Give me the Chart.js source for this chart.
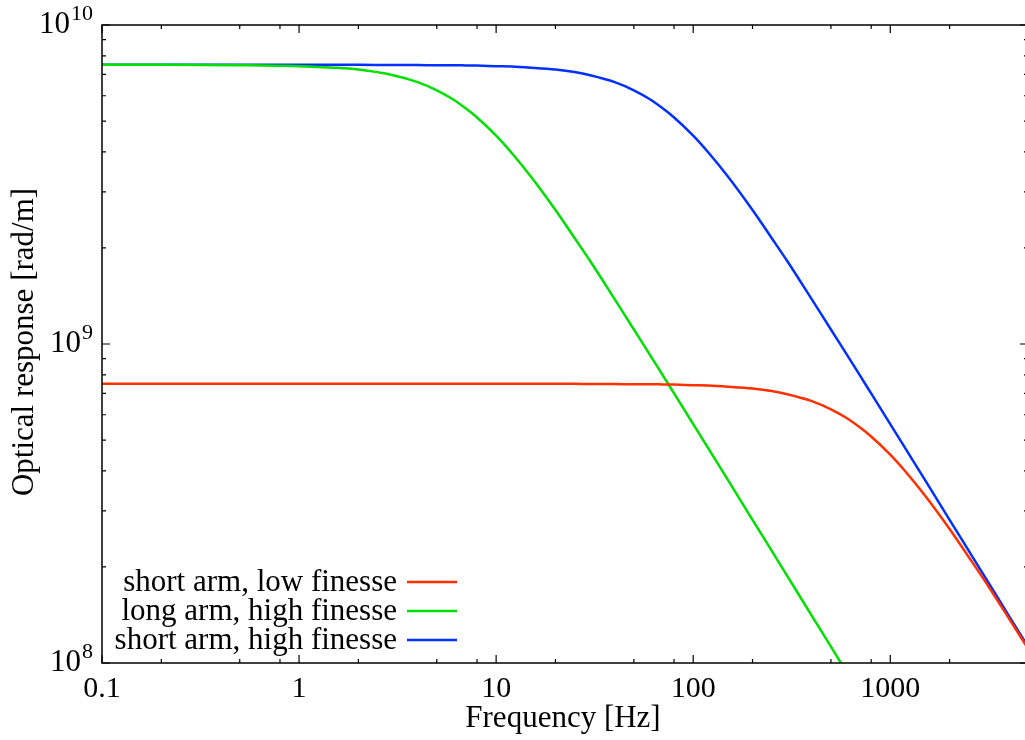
<!DOCTYPE html>
<html>
<head>
<meta charset="utf-8">
<script src="https://cdn.jsdelivr.net/npm/chart.js@4"></script>
<style>
  html, body { margin: 0; padding: 0; background: #fff; overflow: hidden; }
</style>
</head>
<body>
<canvas id="chart" width="1030" height="740"></canvas>
<script>
  // Frequencies [Hz] shared by all three curves
  const freqs = [0.1, 0.2, 0.5, 1, 1.5, 2, 3, 4, 5, 6, 7, 8,
    10, 12, 15, 20, 25, 30, 40, 50, 60, 70, 80,
    100, 120, 150, 200, 250, 300, 400, 500, 600, 700, 800,
    1000, 1200, 1500, 2000, 2500, 3000, 4000, 5000];

  // Optical response [rad/m]
  const shortLowFinesse = [7.5e8, 7.5e8, 7.5e8, 7.5e8, 7.5e8, 7.5e8, 7.5e8, 7.5e8, 7.5e8, 7.5e8, 7.5e8, 7.5e8,
    7.5e8, 7.5e8, 7.5e8, 7.5e8, 7.5e8, 7.49e8, 7.49e8, 7.48e8, 7.48e8, 7.47e8, 7.46e8,
    7.43e8, 7.41e8, 7.35e8, 7.25e8, 7.12e8, 6.96e8, 6.62e8, 6.24e8, 5.86e8, 5.48e8, 5.13e8,
    4.5e8, 3.97e8, 3.35e8, 2.63e8, 2.15e8, 1.82e8, 1.38e8, 1.11e8];
  const longHighFinesse = [7.5e9, 7.5e9, 7.48e9, 7.43e9, 7.35e9, 7.25e9, 6.96e9, 6.62e9, 6.24e9, 5.86e9, 5.48e9, 5.13e9,
    4.5e9, 3.97e9, 3.35e9, 2.63e9, 2.15e9, 1.82e9, 1.38e9, 1.11e9, 9.3e8, 7.99e8, 7.0e8,
    5.61e8, 4.68e8, 3.75e8, 2.81e8, 2.25e8, 1.875e8, 1.406e8, 1.125e8, 9.37e7, null, null,
    null, null, null, null, null, null, null, null];
  const shortHighFinesse = [7.5e9, 7.5e9, 7.5e9, 7.5e9, 7.5e9, 7.5e9, 7.49e9, 7.49e9, 7.48e9, 7.48e9, 7.47e9, 7.46e9,
    7.43e9, 7.41e9, 7.35e9, 7.25e9, 7.12e9, 6.96e9, 6.62e9, 6.24e9, 5.86e9, 5.48e9, 5.13e9,
    4.5e9, 3.97e9, 3.35e9, 2.63e9, 2.15e9, 1.82e9, 1.38e9, 1.11e9, 9.3e8, 7.99e8, 7.0e8,
    5.61e8, 4.68e8, 3.75e8, 2.81e8, 2.25e8, 1.875e8, 1.406e8, 1.125e8];

  const seriesLabels = ["short arm, low finesse", "long arm, high finesse", "short arm, high finesse"];
  const seriesColors = ["#ff3000", "#00e000", "#0030ff"];

  // Axis ticks
  const xMajorTicks = [0.1, 1, 10, 100, 1000];
  const xTickLabels = ["0.1", "1", "10", "100", "1000"];
  const xMinorTicks = [0.2, 0.5, 0.8, 2, 5, 8, 20, 50, 80, 200, 500, 800, 2000];
  const yMajorTicks = [1e8, 1e9, 1e10];
  const yTickExponents = ["8", "9", "10"];
  const yMinorTicks = [2e8, 3e8, 4e8, 5e8, 6e8, 7e8, 8e8, 9e8, 2e9, 3e9, 4e9, 5e9, 6e9, 7e9, 8e9, 9e9];

  const serif = "'Liberation Serif', 'DejaVu Serif', serif";

  function toPoints(values) {
    return freqs.map((f, i) => ({ x: f, y: values[i] }));
  }

  // gnuplot-like frame, inward ticks, superscript labels and legend
  const framePlugin = {
    id: "frame",
    afterDraw(chart) {
      const ctx = chart.ctx;
      const a = chart.chartArea;
      const xs = chart.scales.x;
      const ys = chart.scales.y;
      ctx.save();
      ctx.strokeStyle = "#000";
      ctx.lineWidth = 1.5;
      ctx.strokeRect(a.left, a.top, a.right - a.left, a.bottom - a.top);

      ctx.lineWidth = 1.2;
      ctx.beginPath();
      const xTick = (v, len) => {
        const px = xs.getPixelForValue(v);
        ctx.moveTo(px, a.bottom); ctx.lineTo(px, a.bottom - len);
        ctx.moveTo(px, a.top); ctx.lineTo(px, a.top + len);
      };
      const yTick = (v, len) => {
        const py = ys.getPixelForValue(v);
        ctx.moveTo(a.left, py); ctx.lineTo(a.left + len, py);
        ctx.moveTo(a.right, py); ctx.lineTo(a.right - len, py);
      };
      xMajorTicks.forEach(v => xTick(v, 8));
      xMinorTicks.forEach(v => xTick(v, 4));
      yMajorTicks.forEach(v => yTick(v, 8));
      yMinorTicks.forEach(v => yTick(v, 4));
      ctx.stroke();

      ctx.fillStyle = "#000";
      // x tick labels
      ctx.font = "30px " + serif;
      ctx.textAlign = "center";
      ctx.textBaseline = "alphabetic";
      xMajorTicks.forEach((v, i) => {
        ctx.fillText(xTickLabels[i], xs.getPixelForValue(v), 697);
      });

      // y tick labels as 10^n
      yMajorTicks.forEach((v, i) => {
        const py = ys.getPixelForValue(v);
        ctx.font = "22px " + serif;
        ctx.textAlign = "right";
        const supW = ctx.measureText(yTickExponents[i]).width;
        ctx.fillText(yTickExponents[i], 93, py - 5);
        ctx.font = "31px " + serif;
        ctx.fillText("10", 93 - supW - 1, py + 8);
      });

      // axis titles
      ctx.font = "31px " + serif;
      ctx.textAlign = "center";
      ctx.fillText("Frequency [Hz]", 563, 727);
      ctx.save();
      ctx.translate(33, 342);
      ctx.rotate(-Math.PI / 2);
      ctx.fillText("Optical response [rad/m]", 0, 0);
      ctx.restore();

      // legend
      const rowY = [582, 611, 640];
      chart.data.datasets.forEach((ds, i) => {
        ctx.font = "31px " + serif;
        ctx.textAlign = "right";
        ctx.textBaseline = "middle";
        ctx.fillStyle = "#000";
        ctx.fillText(ds.label, 397, rowY[i] + 1);
        ctx.strokeStyle = ds.borderColor;
        ctx.lineWidth = 2.5;
        ctx.beginPath();
        ctx.moveTo(407, rowY[i]);
        ctx.lineTo(457, rowY[i]);
        ctx.stroke();
      });
      ctx.restore();
    }
  };

  const seriesData = [shortLowFinesse, longHighFinesse, shortHighFinesse];

  new Chart(document.getElementById("chart"), {
    type: "line",
    data: {
      datasets: seriesData.map((vals, i) => ({
        label: seriesLabels[i],
        data: toPoints(vals),
        borderColor: seriesColors[i],
        borderWidth: 2.5,
        pointRadius: 0,
        fill: false,
        cubicInterpolationMode: "monotone"
      }))
    },
    options: {
      responsive: false,
      animation: false,
      layout: { padding: { left: 102, top: 25, right: 2, bottom: 77 } },
      scales: {
        x: { type: "logarithmic", min: 0.1, max: 5000, display: false },
        y: { type: "logarithmic", min: 1e8, max: 1e10, display: false }
      },
      plugins: {
        legend: { display: false },
        tooltip: { enabled: false }
      }
    },
    plugins: [framePlugin]
  });
</script>
</body>
</html>
